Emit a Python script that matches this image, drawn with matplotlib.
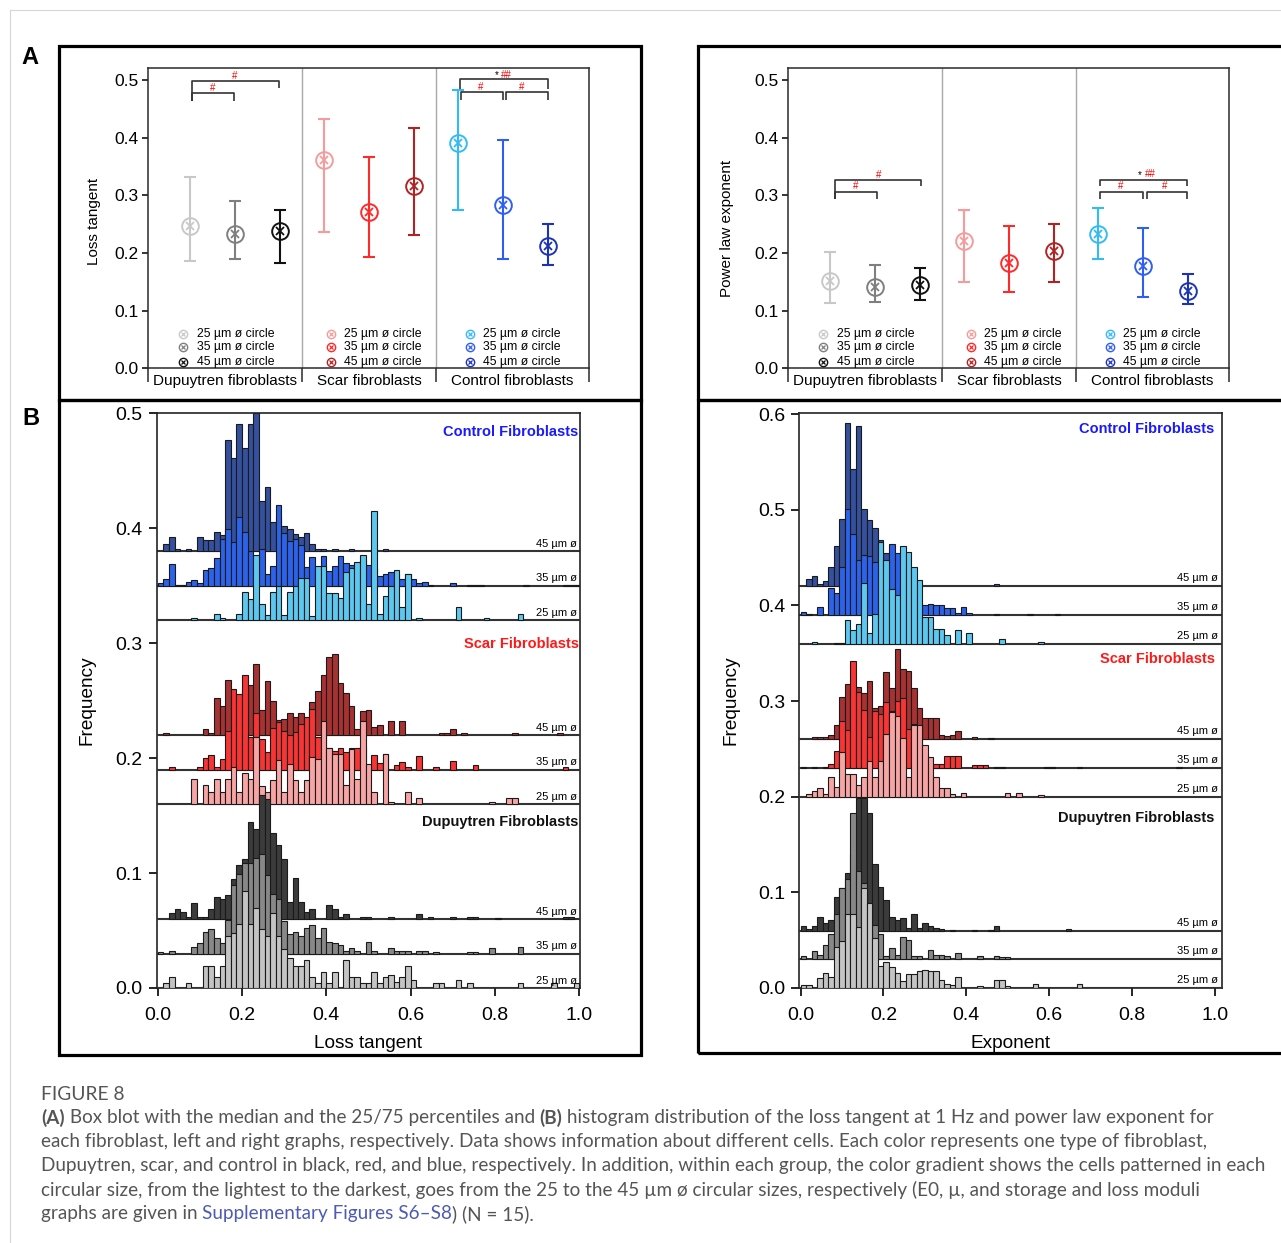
import numpy as np
import matplotlib
matplotlib.use('Agg')
import matplotlib.pyplot as plt
from matplotlib.patches import Rectangle
from matplotlib.lines import Line2D
import matplotlib.transforms as mtransforms

plt.rcParams['font.family'] = ['Liberation Sans', 'DejaVu Sans']

# ---------------- Panel A data (median, 25th, 75th percentile) ----------------
groups_A = ['Dupuytren fibroblasts', 'Scar fibroblasts', 'Control fibroblasts']
size_labels_A = ['25 µm ø circle', '35 µm ø circle', '45 µm ø circle']
lt_med = [0.247, 0.234, 0.239, 0.362, 0.272, 0.316, 0.391, 0.283, 0.213]
lt_q25 = [0.186, 0.190, 0.183, 0.236, 0.194, 0.231, 0.274, 0.190, 0.180]
lt_q75 = [0.332, 0.290, 0.274, 0.433, 0.366, 0.417, 0.483, 0.397, 0.251]
ex_med = [0.151, 0.141, 0.144, 0.221, 0.183, 0.204, 0.233, 0.178, 0.134]
ex_q25 = [0.114, 0.115, 0.118, 0.150, 0.132, 0.150, 0.190, 0.124, 0.112]
ex_q75 = [0.202, 0.179, 0.174, 0.274, 0.247, 0.250, 0.278, 0.243, 0.164]
sig_outer = '#'
sig_inner = '#'
sig_ctrl_star = '*'
sig_ctrl_hash = '##'

# ---------------- Panel B data (histogram bin frequencies, 75 bins on [0,1]) ----------------
lt_ctrl45 = [0, .006, .012, .002, 0, .002, 0, .012, .010, .010, .017, .014, .0965, .081, .111, .090, .111, .120,
             .044, .056, .025, .030, .022, .019, .015, .0125, .016, .006, .002, .002, 0, .002, 0, 0, .002, 0, 0, 0,
             0, 0, .002]
lt_ctrl35 = [.002, .006, .0185, .001, .001, .0035, .0046, .002, .014, .015, .024, .041, .0495, .038, .060, .047,
             .030, .015, .0316, .0104, .0168, .070, .046, .039, .041, .035, .016, .025, .015, .026, .0125, .017,
             .026, .020, .018, .020, .022, .018, .015, .008, .010, .012, .010, .006, .010, .006, .002, .003, .001,
             0, 0, 0, .002, 0, 0, .001, .001, .001, 0, 0, 0, 0, 0, 0, 0, .001, 0, 0, 0, 0, 0, 0, .001, .001, .001]
lt_ctrl25 = [0, 0, 0, 0, 0, 0, .002, 0, 0, 0, .005, .002, 0, 0, .005, .0246, .018, .0565, .0145, .0043,
             .0246, .030, .0043, .0246, .030, .037, .037, .004, .0467, .0467, .024, .024, .019, .0415, .045, .0507,
             .0565, .014, .0948, .005, .021, .030, .044, .0116, .040, 0, .002, 0, 0, 0, 0, 0, 0, .0116, 0, 0, 0, 0,
             .002, 0, 0, 0, 0, 0, .0058]
lt_scar45 = [0, .002, 0, 0, 0, 0, 0, 0, .0055, .002, .032, .025, .048, .035, .030, .040, .044, .0615, .022, .047,
             .030, .013, .014, .019, .016, .019, .014, .029, .038, .052, .068, .071, .045, .037, .025, .0055, .021,
             .022, .007, .009, 0, .012, 0, .012, 0, 0, 0, 0, 0, 0, .002, .002, .0055, 0, .002, 0, 0, 0, 0, 0,
             0, 0, 0, .002, 0, 0, 0, 0, 0, 0, 0, .002]
lt_scar35 = [0, 0, .002, 0, 0, 0, 0, .002, .0104, .0125, .002, .009, .034, .070, .0655, .082, .028, .049, .027,
             .015, .0365, .041, .034, .030, .033, .040, .046, .053, .028, .030, .019, .016, .019, .015, .019, .019,
             .020, 0, .0125, .006, .014, 0, .004, .0067, .002, 0, .0116, 0, 0, .002, 0, 0, .0075, 0, 0, 0, .004,
             0, 0, 0, 0, 0, 0, 0, 0, 0, 0, 0, 0, 0, 0, 0, .002]
lt_scar25 = [0, 0, 0, 0, 0, 0, .022, 0, .0165, .0104, .022, .0104, .022, .0325, .0104, .027, .022, .058, .016,
             .0104, .021, .038, .0104, .035, .021, .0104, .021, .041, .039, .072, .049, .044, .044, .0165, .048,
             .022, .072, .035, .0104, 0, .044, .002, 0, 0, .0107, 0, .005, 0, 0, 0, 0, 0, 0, 0, 0, 0, 0, 0, 0,
             .002, 0, 0, .005, .005]
lt_dup45 = [0, 0, .005, .009, .006, .002, .0136, .002, .002, .009, .019, .017, .021, .035, .047, .052, .084, .078,
            .108, .104, .075, .064, .052, .0145, .036, .0145, .0064, .0087, 0, 0, .0125, .0087, .002, .0043, 0, 0,
            .002, .002, 0, 0, 0, .002, 0, 0, 0, 0, .004, 0, .002, 0, 0, 0, .002, 0, 0, .002, .002, 0, 0, 0,
            .001, 0, 0, 0, 0, 0, 0, 0, 0, 0, 0, 0, .002, .002]
lt_dup35 = [.001, 0, .0026, 0, 0, 0, .0055, .009, .019, .0215, .0133, .009, .029, .060, .069, .079, .079, .083,
            .087, .068, .052, .047, .028, .017, .019, .015, .022, .025, .0133, .0226, .0104, .009, .0075, .0026,
            .0046, .0026, 0, .010, .0026, 0, 0, .0046, .0026, .0026, .0026, 0, .0026, .0026, 0, .001, 0, 0, 0, 0,
            0, .001, .001, 0, 0, .0046, 0, 0, 0, 0, .006]
lt_dup25 = [0, .0043, .0093, 0, 0, .0043, 0, 0, .019, .019, .0093, .019, .0455, .048, .0557, .0846, .0557, .070,
            .051, .0455, .065, .0455, .034, .026, .019, .019, .024, .0093, .0043, .014, .0043, .014, 0, .024,
            .0093, .0093, .0043, .0043, .014, .0043, .0093, .0116, .005, .0093, .019, .0072, 0, 0, 0, .0043,
            .0043, 0, 0, .0072, 0, .0043, 0, 0, 0, 0, 0, 0, 0, 0, .0043, 0, 0, 0, 0, 0, .0043, 0, 0, 0, .0043]

ex_ctrl45 = [0, .0077, .011, .002, .005, .020, .042, .070, .171, .123, .167, .081, .069, .061, .048, .035, .020,
             .010, .005, .002, 0, 0, 0, 0, 0, 0, 0, 0, 0, 0, 0, 0, 0, 0, 0, .002]
ex_ctrl35 = [.003, .001, 0, .008, 0, .0285, .023, .050, .111, .085, .0575, .063, .062, .055, .045, .055, .074,
             .065, .030, .020, .015, .012, .010, .011, .010, .010, .007, .007, .002, .008, .002, 0, 0, 0, 0, .001,
             0, 0, 0, 0, 0, .001, 0, 0, 0, 0, .001]
ex_ctrl25 = [0, 0, .002, 0, 0, 0, .001, .001, .0247, .0146, .0205, .063, .011, .031, .106, .087, .057, .0505,
             .102, .096, .080, .067, .0275, .0275, .0153, .0153, .009, 0, .0146, 0, .0115, 0, 0, 0, 0, 0, .005,
             0, 0, 0, 0, 0, 0, .002]
ex_scar45 = [0, 0, .002, .002, .002, .0045, .015, .044, .058, .050, .055, .048, .061, .033, .035, .070, .054,
             .094, .073, .071, .054, .033, .0226, .022, .0226, .0045, .003, .005, .0087, 0, 0, .002, 0, 0, .001]
ex_scar35 = [.001, 0, .001, 0, .001, .004, .0178, .049, .040, .112, .079, .061, .032, .060, .056, .069, .060,
             .070, .0735, .041, .0456, .045, .014, .0045, .004, .0045, .0125, .0125, .013, 0, 0, .003, .003, .003,
             0, .001, .001, 0, 0, 0, 0, 0, 0, 0, .001, .001, 0, 0, 0, 0, .001, 0, 0, 0, 0, 0, 0, 0, 0, 0, 0, 0,
             0, 0, 0, 0, 0, 0, .001]
ex_scar25 = [0, .003, .0056, .009, .003, .0206, .0098, .047, .0237, .0237, .0118, .021, .0376, .021, .0376, .066,
             .089, .084, .061, .021, .075, .075, .054, .042, .021, .009, .009, .003, 0, .004, 0, 0, 0, 0, 0, 0, 0,
             .004, 0, .004, 0, 0, 0, .002]
ex_dup45 = [.0045, .002, .0045, .0146, .0077, .011, .0355, .0446, .060, .080, .139, .139, .123, .070, .046, .032,
            .014, .0115, .013, .003, .0174, .003, .008, .0045, .003, .0015, 0, .001, 0, 0, 0, .001, 0, 0, .001,
            .0045, 0, 0, 0, 0, 0, 0, 0, 0, 0, 0, 0, 0, .002]
ex_dup35 = [.003, 0, .0084, .005, .0153, .026, .047, .0746, .084, .153, .092, .080, .059, .0355, .026, .003, .012,
            .005, .023, .0205, .003, .003, 0, .0098, .005, .005, .003, 0, .0066, 0, 0, 0, .003, 0, 0, .003, .002,
            .002]
ex_dup25 = [.003, .003, 0, .010, .0157, .011, .0425, .049, .077, .077, .064, .105, .089, .052, .0226, .027, .0216,
            .0157, .0077, .015, .015, .0174, .019, .0174, .0174, .0087, .004, .0035, .011, 0, 0, 0, .002, 0, 0,
            .008, .008, .002, 0, 0, 0, 0, .004, 0, 0, 0, 0, 0, 0, 0, .004]

n_bins = 75
hist_titles = ['Control Fibroblasts', 'Scar Fibroblasts', 'Dupuytren Fibroblasts']
size_labels_B = ['45 µm ø', '35 µm ø', '25 µm ø']
lt_offsets = [[0.38, 0.35, 0.32], [0.22, 0.19, 0.16], [0.06, 0.03, 0.0]]
ex_offsets = [[0.42, 0.39, 0.36], [0.26, 0.23, 0.20], [0.06, 0.03, 0.0]]

# ---------------- styles ----------------
colors_A = [['#c8c8c8', '#7f7f7f', '#111111'],
            ['#f59b9b', '#ff2a2a', '#b22222'],
            ['#33bbf5', '#2f5ff2', '#1c33b5']]
colors_B = [['#34509e', '#2d62ea', '#5cc8ef'],
            ['#a83232', '#f83434', '#f6a4a4'],
            ['#3b3b3b', '#888888', '#c4c4c4']]
title_colors = ['#1a1aff', '#ff1a1a', '#111111']

W, H = 1281, 1243
fig = plt.figure(figsize=(W / 100, H / 100), dpi=100)
fig.patch.set_facecolor('white')


def rect(x0, y0, x1, y1):
    return [x0 / W, 1 - y1 / H, (x1 - x0) / W, (y1 - y0) / H]


# page borders
fig.add_artist(Line2D([10 / W, 1], [1 - 10 / H, 1 - 10 / H], color='#d5d5d5', lw=0.8))
fig.add_artist(Line2D([10 / W, 10 / W], [0, 1 - 10 / H], color='#d5d5d5', lw=0.8))

# panel frames
for (x0, y0, x1, y1) in [(58.5, 45.5, 641, 400), (58.5, 400, 641, 1054.5),
                         (697.5, 45.5, 1284, 400), (697.5, 400, 1284, 1053)]:
    fig.add_artist(Rectangle((x0 / W, 1 - y1 / H), (x1 - x0) / W, (y1 - y0) / H, fill=False,
                             lw=2.3, ec='black', transform=fig.transFigure))

fig.text(30 / W, 1 - 58 / H, 'A', fontsize=17, fontweight='bold', ha='center', va='center')
fig.text(31 / W, 1 - 418 / H, 'B', fontsize=17, fontweight='bold', ha='center', va='center')


def panel_A(ax, med, q25, q75, ylabel, ylab_x, ylab_y, leg, br):
    xl0, xl1 = -0.945, 8.925
    ax.set_xlim(xl0, xl1)
    ax.set_ylim(0, 0.5208)
    for s in ax.spines.values():
        s.set_linewidth(1.1)
        s.set_color('#2a2a2a')
    ax.axvline(2.5, color='#a8a8a8', lw=1, zorder=1)
    ax.axvline(5.5, color='#a8a8a8', lw=1, zorder=1)
    ax.set_xticks([xl0, 2.5, 5.5, xl1])
    ax.tick_params(axis='x', length=10, width=1.1, direction='out', labelbottom=False, color='#2a2a2a')
    ax.set_yticks([0, 0.1, 0.2, 0.3, 0.4, 0.5])
    ax.set_yticklabels(['0.0', '0.1', '0.2', '0.3', '0.4', '0.5'])
    ax.tick_params(axis='y', length=4, width=1.1, pad=3, labelsize=12.5)
    ax.set_ylabel(ylabel, fontsize=11)
    ax.yaxis.set_label_coords(ylab_x, ylab_y)
    trans = mtransforms.blended_transform_factory(ax.transData, ax.transAxes)
    for name, xc in zip(groups_A, [(xl0 + 2.5) / 2, 4.0, (5.5 + xl1) / 2]):
        ax.text(xc, -0.041, name, transform=trans, ha='center', va='center', fontsize=11)
    for i in range(9):
        g, s = divmod(i, 3)
        c = colors_A[g][s]
        ax.errorbar(i, med[i], yerr=[[med[i] - q25[i]], [q75[i] - med[i]]], fmt='none', ecolor=c,
                    elinewidth=1.5, capsize=4.5, capthick=1.5, zorder=3)
        ax.plot(i, med[i], 'o', ms=12, mfc='none', mec=c, mew=1.4, zorder=4)
        ax.plot(i, med[i], 'x', ms=6, color=c, mew=1.3, zorder=5)
    # legends
    leg_mx, leg_tx, leg_y = leg
    for g in range(3):
        for s in range(3):
            c = colors_A[g][s]
            ax.plot(leg_mx[g], leg_y[s], 'o', ms=6, mfc='none', mec=c, mew=1.0, zorder=4)
            ax.plot(leg_mx[g], leg_y[s], 'x', ms=3.2, color=c, mew=0.9, zorder=5)
            ax.text(leg_tx[g], leg_y[s], size_labels_A[s], fontsize=8.8, va='center', ha='left')
    # significance brackets
    bc = '#333333'
    for (xs, ys) in br['lines']:
        ax.plot(xs, ys, color=bc, lw=1.2, zorder=6, solid_capstyle='butt')
    for (tx, ty, txt, col) in br['texts']:
        ax.text(tx, ty, txt, color=col, fontsize=7, ha='center', va='center')


legA = ([-0.155, 3.16, 6.26], [0.146, 3.44, 6.55], [0.0596, 0.0364, 0.0115])

# left panel A brackets
yo, yi, yb, yr = 0.498, 0.4774, 0.4635, 0.487
br_lt = {
    'lines': [([0.04, 0.04, 1.99, 1.99], [yb, yo, yo, yr]),
              ([0.04, 0.04, 0.97, 0.97], [yb, yi, yi, yb]),
              ([6.04, 6.04, 8.0, 8.0], [0.484, 0.5017, 0.5017, 0.484]),
              ([6.06, 6.06, 7.0, 7.0], [0.466, 0.480, 0.480, 0.466]),
              ([7.07, 7.07, 8.0, 8.0], [0.466, 0.480, 0.480, 0.466])],
    'texts': [(1.0, 0.507, sig_outer, 'red'), (0.5, 0.486, sig_inner, 'red'),
              (6.5, 0.488, sig_inner, 'red'), (7.42, 0.488, sig_inner, 'red'),
              (6.87, 0.509, sig_ctrl_star, 'black'), (7.08, 0.510, sig_ctrl_hash, 'red')]
}
yo, yi, yb, yr = 0.3266, 0.3066, 0.2934, 0.316
br_ex = {
    'lines': [([0.1, 0.1, 2.03, 2.03], [yb, yo, yo, yr]),
              ([0.1, 0.1, 1.04, 1.04], [yb, yi, yi, yb]),
              ([6.04, 6.04, 7.99, 7.99], [yr, yo, yo, yr]),
              ([6.04, 6.04, 7.0, 7.0], [yb, yi, yi, yb]),
              ([7.08, 7.08, 7.99, 7.99], [yb, yi, yi, yb])],
    'texts': [(1.08, 0.336, sig_outer, 'red'), (0.56, 0.316, sig_inner, 'red'),
              (6.5, 0.316, sig_inner, 'red'), (7.48, 0.316, sig_inner, 'red'),
              (6.93, 0.336, sig_ctrl_star, 'black'), (7.16, 0.337, sig_ctrl_hash, 'red')]
}

axA1 = fig.add_axes(rect(148, 68.3, 589, 368.3))
panel_A(axA1, lt_med, lt_q25, lt_q75, 'Loss tangent', -0.107, 0.49, legA, br_lt)
axA2 = fig.add_axes(rect(788, 68.3, 1229, 368.3))
panel_A(axA2, ex_med, ex_q25, ex_q75, 'Power law exponent', -0.122, 0.465, legA, br_ex)


def panel_B(ax, series, offsets, ymax, yticks, xlim, xlabel, title_y, lab_dy, lab_x, ylab_x):
    ax.set_xlim(*xlim)
    ax.set_ylim(0, ymax)
    for s in ax.spines.values():
        s.set_linewidth(1.2)
        s.set_color('#222222')
    z = 1
    for g in range(3):
        for s in range(3):
            vals = np.zeros(n_bins)
            v = np.asarray(series[g][s], dtype=float)
            vals[:len(v)] = v
            base = offsets[g][s]
            ax.plot(xlim, [base, base], color='#333333', lw=1.5, zorder=z)
            k = np.nonzero(vals)[0]
            ax.bar(k / n_bins, vals[k], width=1 / n_bins, bottom=base, align='edge',
                   color=colors_B[g][s], edgecolor='#1a1a1a', linewidth=0.8, zorder=z + 0.5)
            ax.text(lab_x, base + lab_dy, size_labels_B[s], fontsize=8, ha='right', va='bottom',
                    zorder=20)
            z += 1
        ax.text(0.998 if lab_x < 1 else 1.0, title_y[g], hist_titles[g], color=title_colors[g],
                fontsize=10.5, fontweight='bold', ha='right', va='center', zorder=20)
    ax.set_yticks(yticks)
    ax.set_yticklabels(['%.1f' % t for t in yticks])
    ax.set_xticks([0, 0.2, 0.4, 0.6, 0.8, 1.0])
    ax.set_xticklabels(['0.0', '0.2', '0.4', '0.6', '0.8', '1.0'])
    ax.tick_params(axis='both', length=6, width=1.2, labelsize=14, direction='out')
    ax.tick_params(axis='y', pad=4)
    ax.tick_params(axis='x', pad=8)
    ax.set_xlabel(xlabel, fontsize=13.7)
    ax.set_ylabel('Frequency', fontsize=13.7)
    ax.xaxis.set_label_coords(0.5, -0.081)
    ax.yaxis.set_label_coords(ylab_x, 0.5)


axB1 = fig.add_axes(rect(156.5, 412.7, 579.8, 988))
panel_B(axB1, [[lt_ctrl45, lt_ctrl35, lt_ctrl25], [lt_scar45, lt_scar35, lt_scar25],
               [lt_dup45, lt_dup35, lt_dup25]], lt_offsets, 0.5005,
        [0, 0.1, 0.2, 0.3, 0.4, 0.5], (-0.0028, 1.001), 'Loss tangent',
        [0.484, 0.299, 0.144], 0.002, 0.995, -0.145)
axB2 = fig.add_axes(rect(799.2, 412.7, 1221.5, 988))
panel_B(axB2, [[ex_ctrl45, ex_ctrl35, ex_ctrl25], [ex_scar45, ex_scar35, ex_scar25],
               [ex_dup45, ex_dup35, ex_dup25]], ex_offsets, 0.6014,
        [0, 0.1, 0.2, 0.3, 0.4, 0.5, 0.6], (-0.0036, 1.0164), 'Exponent',
        [0.584, 0.344, 0.178], 0.003, 1.008, -0.142)

# ---------------- caption ----------------
renderer = fig.canvas.get_renderer()
cap_font = ['Lato', 'DejaVu Sans']
cap_col = '#555555'
link_col = '#4d5bb5'


def twidth(s, size, weight):
    t = fig.text(0, 0, s + '|', fontsize=size, fontweight=weight, family=cap_font)
    w1 = t.get_window_extent(renderer).width
    t.remove()
    t = fig.text(0, 0, '|', fontsize=size, fontweight=weight, family=cap_font)
    w2 = t.get_window_extent(renderer).width
    t.remove()
    return w1 - w2


caption_lines = [
    [('(A)', 'bold', cap_col), (' Box blot with the median and the 25/75 percentiles and ', 'normal', cap_col),
     ('(B)', 'bold', cap_col),
     (' histogram distribution of the loss tangent at 1 Hz and power law exponent for', 'normal', cap_col)],
    [('each fibroblast, left and right graphs, respectively. Data shows information about different cells. '
      'Each color represents one type of fibroblast,', 'normal', cap_col)],
    [('Dupuytren, scar, and control in black, red, and blue, respectively. In addition, within each group, '
      'the color gradient shows the cells patterned in each', 'normal', cap_col)],
    [('circular size, from the lightest to the darkest, goes from the 25 to the 45 µm ø circular sizes, '
      'respectively (E0, µ, and storage and loss moduli', 'normal', cap_col)],
    [('graphs are given in ', 'normal', cap_col), ('Supplementary Figures S6–S8', 'normal', link_col),
     (') (N = 15).', 'normal', cap_col)],
]
ref_w = sum(twidth(t, 12, w) for t, w, c in caption_lines[2])
cap_size = 12 * (1262 - 41) / ref_w

fig.text(41 / W, 1 - 1094 / H, 'FIGURE 8', fontsize=cap_size * 1.02, color=cap_col, family=cap_font,
         ha='left', va='center')
for li, runs in enumerate(caption_lines):
    x = 41.0
    y = 1118 + 24 * li
    for txt, wgt, col in runs:
        fig.text(x / W, 1 - y / H, txt, fontsize=cap_size, fontweight=wgt, color=col, family=cap_font,
                 ha='left', va='center')
        x += twidth(txt, cap_size, wgt)

fig.savefig('out.png', dpi=100, facecolor='white')
